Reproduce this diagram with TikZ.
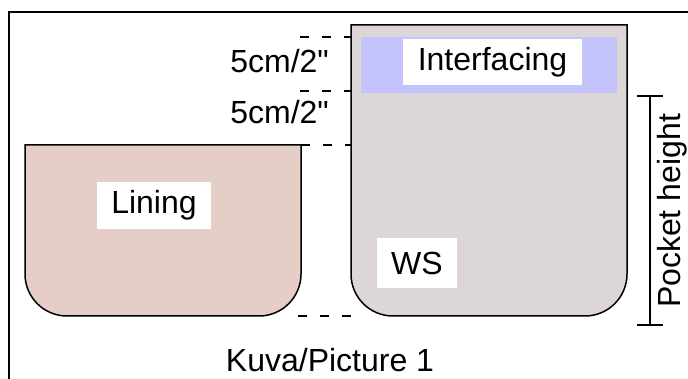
\documentclass[tikz,border=0pt]{standalone}
\usepackage{fontspec}
\setmainfont{Liberation Sans}
\newfontfamily\plainfont{Liberation Sans}
\definecolor{liningfill}{RGB}{229,206,198}
\definecolor{wsfill}{RGB}{221,214,214}
\definecolor{interfill}{RGB}{196,196,252}
\tikzset{
  piece/.style={draw=black, line width=1.5pt},
  lbl/.style={font=\plainfont\fontsize{32}{36}\selectfont, inner sep=0pt},
  whitebox/.style={fill=white, inner sep=0pt, font=\plainfont\fontsize{32}{36}\selectfont},
  guide/.style={draw=black, line width=1.5pt, dash pattern=on 9pt off 13pt},
  dim/.style={draw=black, line width=1.5pt}
}
\begin{document}
\begin{tikzpicture}[x=1pt,y=-1pt]
\useasboundingbox (0,0) rectangle (688,379);
\fill[white] (0,0) rectangle (688,379);
% frame
\draw[line width=2pt] (9,379) -- (9,12) -- (688,12);
% lining piece
\draw[piece, fill=liningfill] (25,145) -- (301,145) -- (301,220) [rounded corners=42pt] -- (301,316) -- (25,316) -- (25,220) [sharp corners] -- cycle;
% WS piece
\draw[piece, fill=wsfill] (351,25) -- (627,25) -- (627,200) [rounded corners=42pt] -- (627,316) -- (351,316) -- (351,200) [sharp corners] -- cycle;
% interfacing band
\fill[interfill] (361,37) rectangle (617,93);
% labels
\node[whitebox, minimum width=179pt, minimum height=46pt] (inter) at (492.5,62) {Interfacing};
\node[whitebox, minimum width=114pt, minimum height=47pt] (lining) at (154,205.5) {Lining};
\node[whitebox, minimum width=80pt, minimum height=50pt] (ws) at (417,263) {WS};
% guide lines
\coordinate (g1a) at (300,37); \coordinate (g1b) at (351,37);
\coordinate (g2a) at (300,91); \coordinate (g2b) at (351,91);
\coordinate (g3a) at (301,145); \coordinate (g3b) at (351,145);
\coordinate (g4a) at (298,316); \coordinate (g4b) at (351,316);
\draw[guide] (g1a) -- (g1b);
\draw[guide] (g2a) -- (g2b);
\draw[guide] (g3a) -- (g3b);
\draw[guide] (g4a) -- (g4b);
\node[lbl, anchor=east] (m1) at (329,61) {5cm/2"};
\node[lbl, anchor=east] (m2) at (329,112) {5cm/2"};
% pocket height
\coordinate (ph1) at (650,96); \coordinate (ph2) at (650,325);
\draw[dim] (ph1) -- (ph2);
\draw[dim] (637,96) -- (663,96);
\draw[dim] (637,325) -- (663,325);
\node[lbl, rotate=90] (pocket) at (672,211) {Pocket height};
% caption
\node[lbl] (cap) at (330,360) {Kuva/Picture 1};
\end{tikzpicture}
\end{document}
